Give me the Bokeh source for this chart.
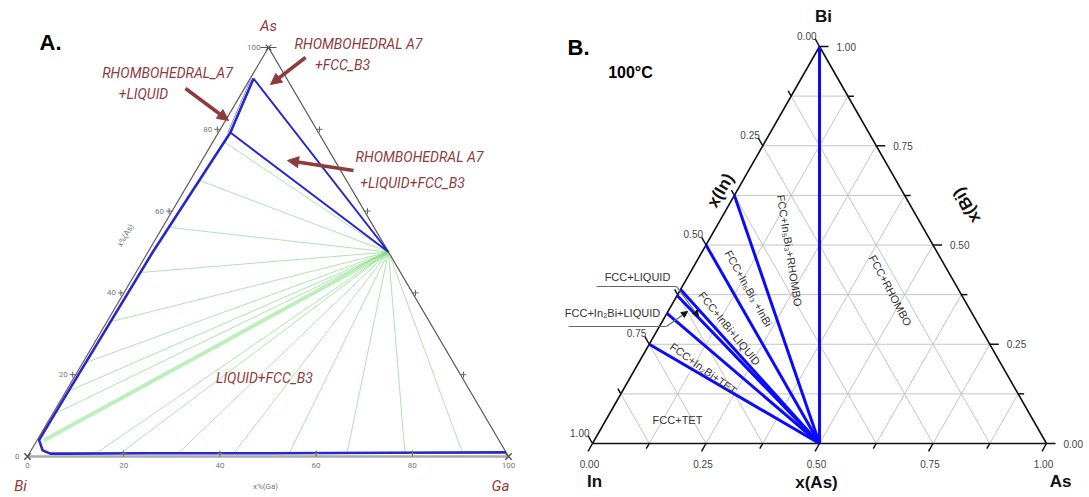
import math
from bokeh.plotting import figure
from bokeh.models import Range1d, Arrow, NormalHead
from bokeh.core.properties import value
from bokeh.embed import file_html
from bokeh.resources import INLINE

W, H = 1089, 497

# ---------------- Panel A data (mole %, Ga and As; Bi = rest) ----------------
A_tick_values = [0, 20, 40, 60, 80, 100]
A_tick_labels = ["0", "20", "40", "60", "80", "100"]
A_liq_ga = [99.0, 75, 50, 25, 8, 4.4, 2.4, 0.4, 0.5, 1.0, 2.5]
A_liq_as = [1.0, 0.9, 0.8, 0.8, 0.7, 0.7, 1.5, 4.0, 15, 50, 79.2]
A_rhombo_liq_ga = [2.5, 0.7]
A_rhombo_liq_as = [79.2, 92.4]
A_three_ga = [0.7, 2.5, 50, 0.7]
A_three_as = [92.4, 79.2, 50, 92.4]
A_fcc_ga, A_fcc_as = 50, 50
A_tie_ga = [2.2, 1.9, 1.5, 1.2, 0.9, 0.7, 0.6, 0.5, 14, 19, 31, 42.5, 54, 66, 78, 90]
A_tie_as = [77, 67.5, 56, 45, 33, 23, 16, 10.5, 0.9, 0.9, 0.9, 0.9, 0.9, 0.9, 0.9, 0.9]
A_band_ga, A_band_as = 1.4, 3.9

# ---------------- Panel B data (mole fractions) ----------------
B_tick_values = [0.0, 0.25, 0.5, 0.75, 1.0]
B_tick_labels = ["0.00", "0.25", "0.50", "0.75", "1.00"]
B_minor = [0.125, 0.375, 0.625, 0.875]
B_center_in, B_center_as = 0.5, 0.5          # InAs
B_tie_in = [0.0, 0.375, 0.5, 0.612, 0.627, 0.672, 0.75]  # other end on In-Bi edge

# ---------------- coordinate helpers ----------------
A_BI = (27, 456); A_GA = (508, 456); A_AS = (268, 47)
B_IN = (592, 443); B_AS = (1046, 443); B_BI = (819, 46)


def pa(ga, as_):
    g, a = ga / 100.0, as_ / 100.0
    x = A_BI[0] + g * (A_GA[0] - A_BI[0]) + a * (A_AS[0] - A_BI[0])
    yp = A_BI[1] + g * (A_GA[1] - A_BI[1]) + a * (A_AS[1] - A_BI[1])
    return x, H - yp


def pb(in_, as_, bi):
    x = in_ * B_IN[0] + as_ * B_AS[0] + bi * B_BI[0]
    yp = in_ * B_IN[1] + as_ * B_AS[1] + bi * B_BI[1]
    return x, H - yp


def px(x, y):
    return x, H - y


p = figure(width=W, height=H, x_range=Range1d(0, W), y_range=Range1d(0, H),
           output_backend="svg", toolbar_location=None, min_border=0)
p.axis.visible = False
p.grid.visible = False
p.outline_line_color = None
p.background_fill_color = "white"

BROWN = "#8f3b3b"
AFONT = value("Roboto")
BFONT = value("Liberation Sans")

# =============== Panel A ===============
fx, fy = pa(A_fcc_ga, A_fcc_as)
xs, ys = [], []
for g, a in zip(A_tie_ga, A_tie_as):
    x0, y0 = pa(g, a)
    xs.append([x0, fx]); ys.append([y0, fy])
p.multi_line(xs, ys, line_color="#8fd88f", line_width=0.8, line_alpha=0.9)
bx, by = pa(A_band_ga, A_band_as)
p.line([bx, fx], [by, fy], line_color="#7be07b", line_width=4, line_alpha=0.5)

for (a, b, c, w) in [(A_BI, A_AS, "#6b5a5a", 1.2), (A_AS, A_GA, "#555555", 1.2), (A_BI, A_GA, "#aaaaaa", 2.5)]:
    p.line([a[0], b[0]], [H - a[1], H - b[1]], line_color=c, line_width=w)

lx, ly = zip(*[pa(g, a) for g, a in zip(A_liq_ga, A_liq_as)])
p.line(list(lx), list(ly), line_color="#2828c8", line_width=2.6)
rx, ry = zip(*[pa(g, a) for g, a in zip(A_rhombo_liq_ga, A_rhombo_liq_as)])
p.line(list(rx), list(ry), line_color="#2828c8", line_width=2.4)
rx2 = [v - 2.5 for v in rx]
p.line(rx2, list(ry), line_color="#8888dd", line_width=1)
tx, ty = zip(*[pa(g, a) for g, a in zip(A_three_ga, A_three_as)])
p.line(list(tx), list(ty), line_color="#2828c8", line_width=2.0)

for v, lab in zip(A_tick_values, A_tick_labels):
    x, y = pa(0, v)
    if 0 < v < 100:
        p.line([x - 6, x], [y, y], line_color="#666666", line_width=1)
        p.line([x - 3, x - 3], [y - 3, y + 3], line_color="#666666", line_width=1)
    p.text([x - 8], [y], text=[lab], text_font=AFONT, text_font_size="8px",
           text_color="#777777", text_align="right", text_baseline="middle")
    x, y = pa(v, 0)
    if 0 < v < 100:
        p.line([x, x], [y, y + 6], line_color="#666666", line_width=1)
        p.line([x - 3, x + 3], [y + 3, y + 3], line_color="#666666", line_width=1)
    p.text([x], [y - 6], text=[lab], text_font=AFONT, text_font_size="8px",
           text_color="#777777", text_align="center", text_baseline="top")
    if 0 < v < 100:
        x, y = pa(100 - v, v)
        p.line([x, x + 6], [y, y], line_color="#666666", line_width=1)
        p.line([x + 3, x + 3], [y - 3, y + 3], line_color="#666666", line_width=1)

for c in (A_BI, A_GA):
    p.scatter([c[0]], [H - c[1]], marker="x", size=9, line_color="#555555", line_width=1.5)
p.line([A_AS[0] - 8, A_AS[0] + 8], [H - A_AS[1]] * 2, line_color="#555555", line_width=1.2)
p.scatter([A_AS[0]], [H - A_AS[1]], marker="x", size=8, line_color="#555555", line_width=1.2)

p.text(*zip(px(265, 486)), text=["x%(Ga)"], text_font=AFONT, text_font_size="8px",
       text_color="#777777", text_align="center", text_baseline="middle")
p.text(*zip(px(125, 235)), text=["x%(As)"], text_font=AFONT, text_font_size="8px",
       text_color="#777777", text_align="center", text_baseline="middle", angle=math.radians(60))

for (xx, yy, t) in [(268, 25, "As"), (20, 485, "Bi"), (500, 485, "Ga")]:
    p.text(*zip(px(xx, yy)), text=[t], text_font=AFONT, text_font_size="15px",
           text_font_style="italic", text_color=BROWN, text_align="center", text_baseline="middle")

annA = [(167, 72, "RHOMBOHEDRAL_A7"), (143, 93, "+LIQUID"),
        (358, 43, "RHOMBOHEDRAL A7"), (342, 64, "+FCC_B3"),
        (419, 156, "RHOMBOHEDRAL A7"), (412, 182, "+LIQUID+FCC_B3"),
        (264, 377, "LIQUID+FCC_B3")]
ax_, ay_ = zip(*[px(a, b) for a, b, _ in annA])
p.text(list(ax_), list(ay_), text=[t for _, _, t in annA], text_font=AFONT, text_font_size="14px",
       text_font_style="italic", text_color=BROWN, text_align="center", text_baseline="middle")

for (x0, y0, x1, y1) in [(185, 88, 228, 120), (305, 57, 270, 84), (353, 170, 287, 160)]:
    a0 = px(x0, y0); a1 = px(x1, y1)
    p.add_layout(Arrow(end=NormalHead(size=11, fill_color=BROWN, line_color=BROWN),
                       x_start=a0[0], y_start=a0[1], x_end=a1[0], y_end=a1[1],
                       line_color=BROWN, line_width=3.5))

p.text(*zip(px(50, 42)), text=["A."], text_font=BFONT, text_font_size="22px",
       text_font_style="bold", text_color="black", text_align="center", text_baseline="middle")

# =============== Panel B ===============
GRID = "#c4c4c4"
gx, gy = [], []
for k in B_minor + B_tick_values[1:-1]:
    for (s, e) in [((1 - k, 0, k), (0, 1 - k, k)),
                   ((k, 0, 1 - k), (k, 1 - k, 0)),
                   ((1 - k, k, 0), (0, k, 1 - k))]:
        a = pb(*s); b = pb(*e)
        gx.append([a[0], b[0]]); gy.append([a[1], b[1]])
p.multi_line(gx, gy, line_color=GRID, line_width=1)

ex, ey = zip(*[pb(*c) for c in [(1, 0, 0), (0, 1, 0), (0, 0, 1), (1, 0, 0)]])
p.line(list(ex), list(ey), line_color="#111111", line_width=1.6)

cx, cy = pb(B_center_in, B_center_as, 0)
bxs, bys = [], []
for t in B_tie_in:
    x0, y0 = pb(t, 0, 1 - t)
    bxs.append([x0, cx]); bys.append([y0, cy])
p.multi_line(bxs, bys, line_color="#0a0aff", line_width=3)


def unit(dx, dy):
    n = math.hypot(dx, dy)
    return dx / n, dy / n


d_bottom = unit(B_IN[0] - B_BI[0], -(B_IN[1] - B_BI[1]))
d_left = unit(B_BI[0] - B_AS[0], -(B_BI[1] - B_AS[1]))
tick_x, tick_y = [], []
for k in sorted(B_tick_values + B_minor):
    L = 9 if k in B_tick_values else 6
    x, y = pb(1 - k, k, 0)
    tick_x.append([x, x + L * d_bottom[0]]); tick_y.append([y, y + L * d_bottom[1]])
    x, y = pb(0, 1 - k, k)
    tick_x.append([x, x + L]); tick_y.append([y, y])
    x, y = pb(k, 0, 1 - k)
    tick_x.append([x, x + L * d_left[0]]); tick_y.append([y, y + L * d_left[1]])
p.multi_line(tick_x, tick_y, line_color="#111111", line_width=1.5)

for k, lab in zip(B_tick_values, B_tick_labels):
    x, y = pb(1 - k, k, 0)
    p.text([x - 3], [y - 20], text=[lab], text_font=BFONT, text_font_size="10px",
           text_color="#444444", text_align="center", text_baseline="middle")
    x, y = pb(0, 1 - k, k)
    p.text([x + 17], [y], text=[lab], text_font=BFONT, text_font_size="10px",
           text_color="#444444", text_align="left", text_baseline="middle")
    x, y = pb(k, 0, 1 - k)
    p.text([x - 3], [y + 11], text=[lab], text_font=BFONT, text_font_size="10px",
           text_color="#444444", text_align="right", text_baseline="middle")

for (xx, yy, t, ang) in [(823, 16, "Bi", 0), (594, 481, "In", 0), (1060, 481, "As", 0),
                         (816, 482, "x(As)", 0), (720, 190, "x(In)", 60), (966, 205, "x(Bi)", 120)]:
    p.text(*zip(px(xx, yy)), text=[t], text_font=BFONT, text_font_size="17px",
           text_font_style="bold", text_color="#111111", text_align="center",
           text_baseline="middle", angle=math.radians(ang))

p.text(*zip(px(578, 47)), text=["B."], text_font=BFONT, text_font_size="22px",
       text_font_style="bold", text_color="black", text_align="center", text_baseline="middle")
p.text(*zip(px(630, 72)), text=["100°C"], text_font=BFONT, text_font_size="16px",
       text_font_style="bold", text_color="black", text_align="center", text_baseline="middle")

regions = [(789, 250, "FCC+In₅Bi₃+RHOMBO", -81), (748, 288, "FCC+In₅Bi₃ +InBi", -61),
           (729, 328, "FCC+InBi+LIQUID", -51), (703, 368, "FCC+In₂Bi+TET", -36),
           (890, 290, "FCC+RHOMBO", -62), (677, 419, "FCC+TET", 0)]
for (xx, yy, t, ang) in regions:
    p.text(*zip(px(xx, yy)), text=[t], text_font=BFONT, text_font_size="11px",
           text_color="#333333", text_align="center", text_baseline="middle",
           angle=math.radians(ang))

for (xx, yy, t) in [(637, 276, "FCC+LIQUID"), (612, 312, "FCC+In₂Bi+LIQUID")]:
    p.text(*zip(px(xx, yy)), text=[t], text_font=BFONT, text_font_size="11px",
           text_color="#333333", text_align="center", text_baseline="middle")
for pts in [[(596, 286), (676, 286), (698, 316)], [(568, 326), (666, 326), (687, 311)]]:
    lx2, ly2 = zip(*[px(a, b) for a, b in pts])
    p.line(list(lx2[:2]), list(ly2[:2]), line_color="#666666", line_width=1.2)
    p.add_layout(Arrow(end=NormalHead(size=6, fill_color="#111111", line_color="#111111"),
                       x_start=lx2[1], y_start=ly2[1], x_end=lx2[2], y_end=ly2[2],
                       line_color="#666666", line_width=1.2))

open("out.html", "w").write(file_html(p, INLINE))
